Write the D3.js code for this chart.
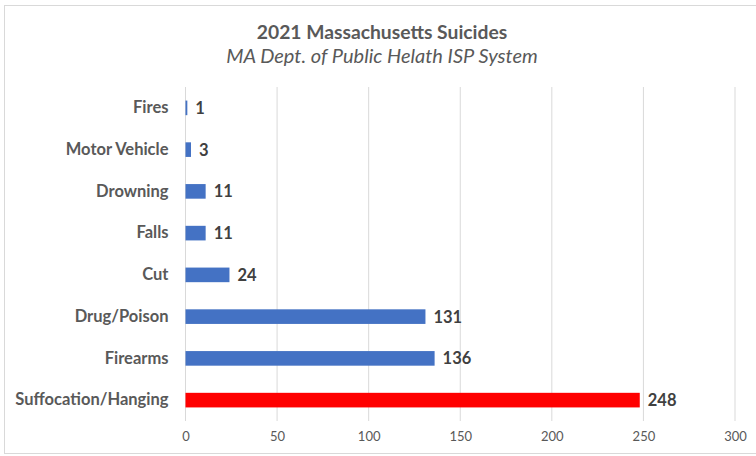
<!DOCTYPE html>
<html>
<head>
<meta charset="utf-8">
<script src="https://cdn.jsdelivr.net/npm/d3@7"></script>
<style>
  body { margin: 0; background: #fff; }
  svg { font-family: Lato, "Open Sans", sans-serif; }
</style>
</head>
<body>
<div class="chart"></div>
<script>
// chart data
var categories = ['Fires', 'Motor Vehicle', 'Drowning', 'Falls', 'Cut', 'Drug/Poison ', 'Firearms', 'Suffocation/Hanging'];
var counts = [1, 3, 11, 11, 24, 131, 136, 248];
var highlight = 'Suffocation/Hanging';
var xTicks = [0, 50, 100, 150, 200, 250, 300];

var opts = {
  width: 756,
  height: 456,
  left: 185.5,
  right: 735,
  top: 87,
  bottom: 421
};

var svg = d3.select('.chart').append('svg')
  .attr('width', opts.width)
  .attr('height', opts.height);

// outer frame
svg.append('rect')
  .attr('x', 4.5).attr('y', 5.5)
  .attr('width', 760).attr('height', 448)
  .attr('fill', 'none')
  .attr('stroke', '#d9d9d9');

var x = d3.scaleLinear().domain([0, 300]).range([opts.left, opts.right]);
var y = d3.scaleBand().domain(categories).range([opts.top, opts.bottom]).paddingInner(0.65).paddingOuter(0.325);

var rows = categories.map(function (c, i) { return {name: c, value: counts[i]}; });

// gridlines
svg.append('g').selectAll('line')
  .data(xTicks)
  .enter()
  .append('line')
  .attr('x1', function (d) { return x(d); })
  .attr('x2', function (d) { return x(d); })
  .attr('y1', opts.top)
  .attr('y2', opts.bottom)
  .attr('stroke', '#d9d9d9')
  .attr('stroke-width', 1);

// x axis labels
var xAxis = svg.append('g')
  .attr('transform', 'translate(0,' + opts.bottom + ')')
  .call(d3.axisBottom(x).tickValues(xTicks).tickSize(0).tickPadding(11));
xAxis.select('.domain').remove();
xAxis.selectAll('text')
  .attr('font-family', 'Lato, sans-serif')
  .attr('font-size', 13)
  .attr('fill', '#595959');

// category labels
var yAxis = svg.append('g')
  .attr('transform', 'translate(' + (opts.left - 17) + ',0)')
  .call(d3.axisLeft(y).tickSize(0).tickPadding(0));
yAxis.select('.domain').remove();
yAxis.selectAll('text')
  .attr('font-family', 'Lato, sans-serif')
  .attr('font-size', 16.5)
  .attr('font-weight', 'bold')
  .attr('fill', '#595959');

// bars
svg.append('g').selectAll('rect')
  .data(rows)
  .enter()
  .append('rect')
  .attr('x', x(0))
  .attr('y', function (d) { return y(d.name); })
  .attr('width', function (d) { return x(d.value) - x(0); })
  .attr('height', y.bandwidth())
  .attr('fill', function (d) { return d.name === highlight ? '#ff0000' : '#4472c4'; });

// value labels
svg.append('g').selectAll('text')
  .data(rows)
  .enter()
  .append('text')
  .attr('x', function (d) { return x(d.value) + 8; })
  .attr('y', function (d) { return y(d.name) + y.bandwidth() / 2; })
  .attr('dy', '0.36em')
  .attr('font-size', 16.5)
  .attr('font-weight', 'bold')
  .attr('fill', '#404040')
  .text(function (d) { return d.value; });

// titles
svg.append('text')
  .attr('x', 382).attr('y', 39)
  .attr('text-anchor', 'middle')
  .attr('font-size', 19.3)
  .attr('font-weight', 'bold')
  .attr('fill', '#595959')
  .text('2021 Massachusetts Suicides');

svg.append('text')
  .attr('x', 382).attr('y', 63)
  .attr('text-anchor', 'middle')
  .attr('font-size', 20)
  .attr('font-style', 'italic')
  .attr('fill', '#595959')
  .text('MA Dept. of Public Helath ISP System');
</script>
</body>
</html>
